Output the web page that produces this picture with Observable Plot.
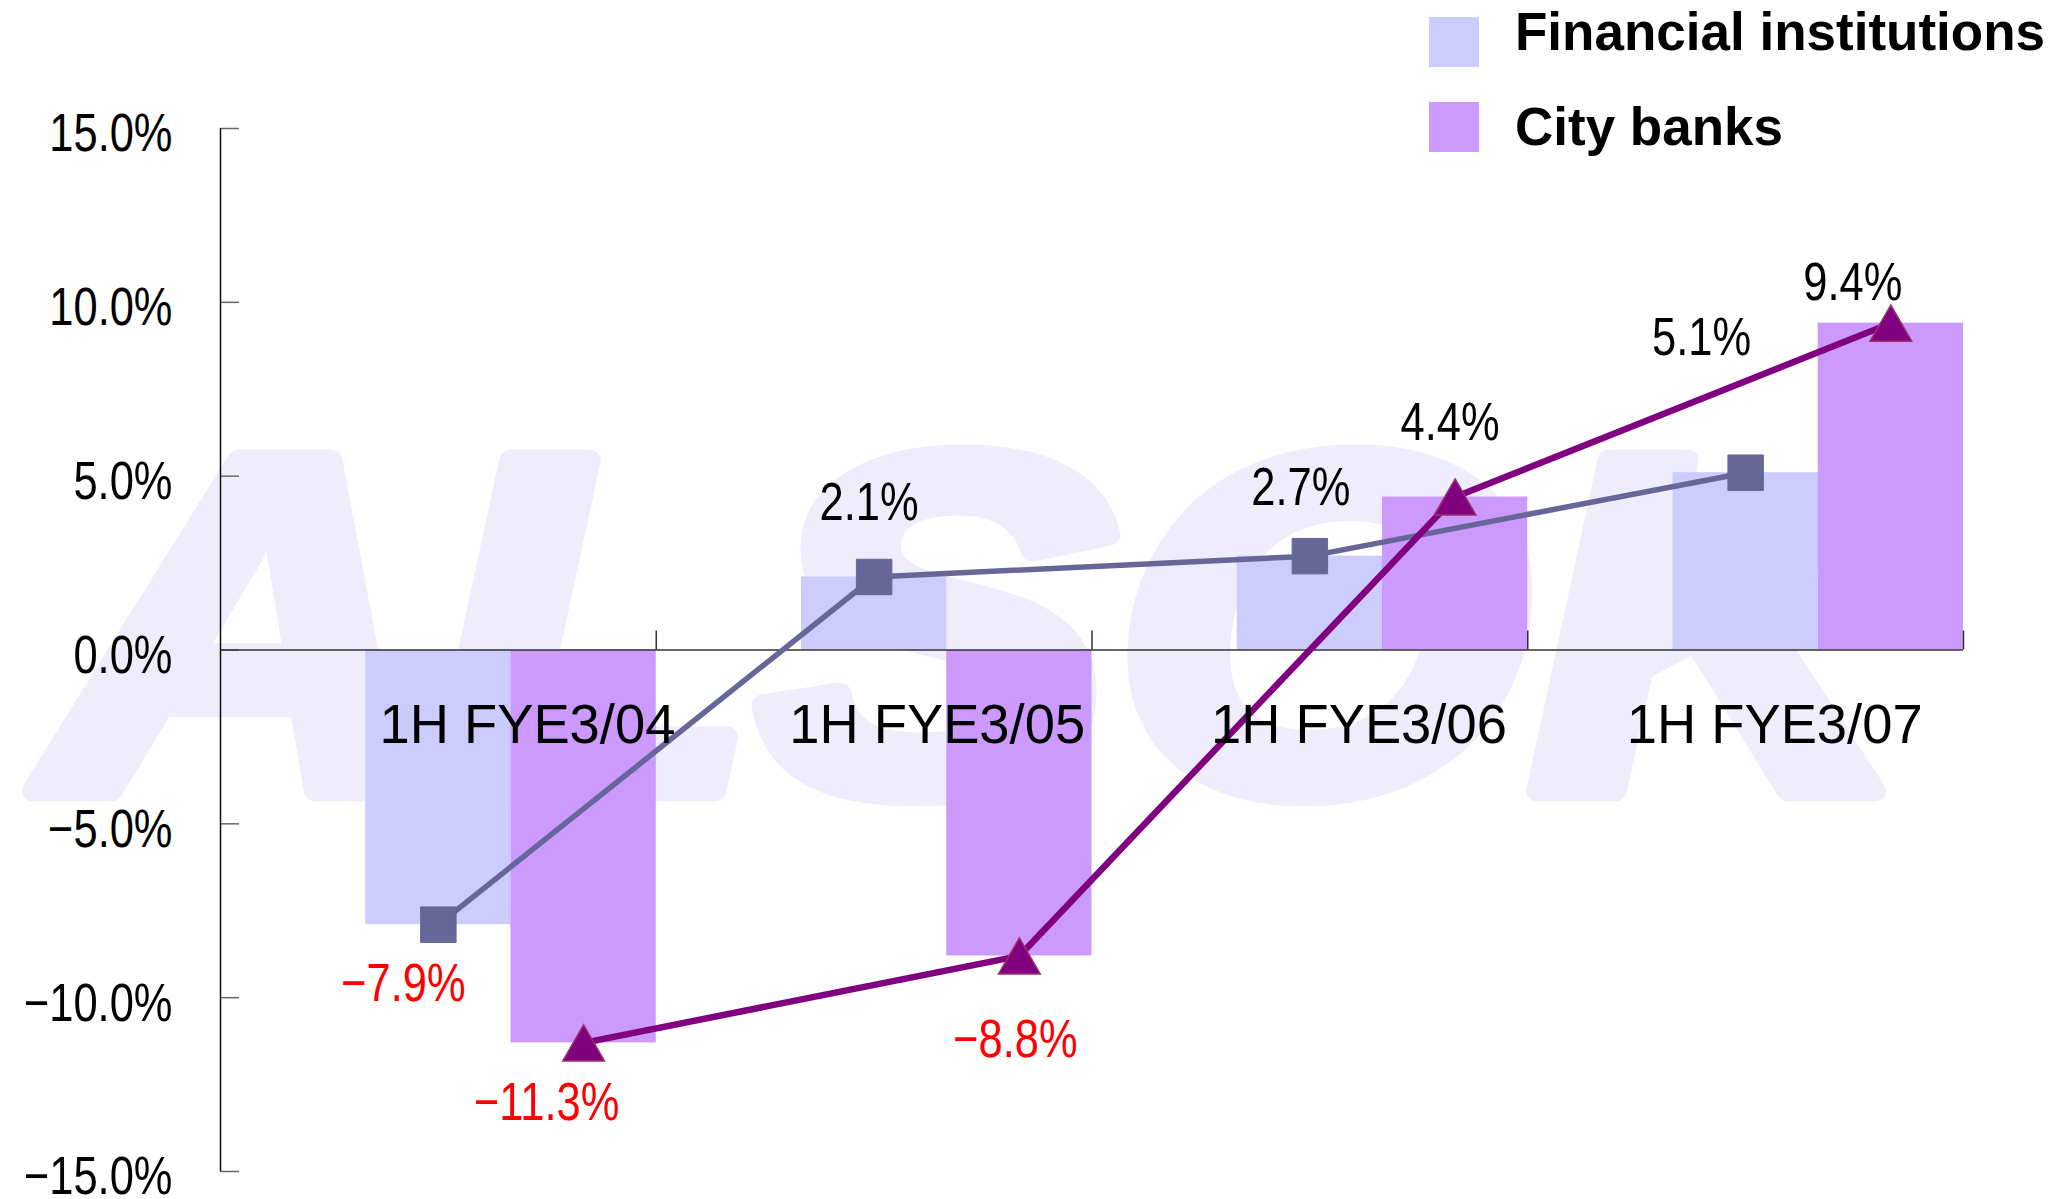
<!DOCTYPE html>
<html>
<head>
<meta charset="utf-8">
<script src="https://cdn.jsdelivr.net/npm/d3@7"></script>
<script src="https://cdn.jsdelivr.net/npm/@observablehq/plot@0.6"></script>
<style>
  html, body { margin: 0; padding: 0; background: #fff; }
  #wrap { position: relative; width: 2069px; height: 1199px; overflow: hidden; }
  #wrap svg { position: absolute; left: 0; top: 0; }
  .lg-sw { position: absolute; width: 50px; height: 50px; }
  .lg-tx { position: absolute; font-family: "Liberation Sans", Arial, sans-serif; font-weight: bold; font-size: 53px; line-height: 53px; color: #000; white-space: nowrap; }
</style>
</head>
<body>
<div id="wrap"></div>
<script>
// ---- data ----
const categories = ["1H FYE3/04", "1H FYE3/05", "1H FYE3/06", "1H FYE3/07"];
const seriesNames = ["Financial institutions", "City banks"];
const financial = [-7.9, 2.1, 2.7, 5.1];
const cityBanks = [-11.3, -8.8, 4.4, 9.4];
const yTicks = [15, 10, 5, 0, -5, -10, -15];

// ---- layout / style ----
const W = 2069, H = 1199;
const mL = 220, mR = 106, mT = 128, mB = 28;
const plotW = W - mL - mR, plotH = H - mT - mB;
const unitX = plotW / categories.length;   // px per category
const unitY = plotH / 30;                 // px per percentage point
const TICK = 19;
const FONT = "'Liberation Sans', Arial, sans-serif";
const colors = {fiBar: "#CCCCFF", cbBar: "#CC99FF", fiLine: "#666699", cbLine: "#800080"};
// label offsets (px) relative to markers
const fiLabelOff = [[-35, 57], [-5, -76], [-9, -70], [-44, -137]];
const cbLabelOff = [[-37, 58], [-4, 82], [-5, -76], [-38, -42]];
const catLabelDx = [89, 63, 49, 29];

const fmt = v => (v < 0 ? "\u2212" : "") + Math.abs(v).toFixed(1) + "%";

const fi = categories.map((c, i) => ({i, cat: c, v: financial[i]}));
const cb = categories.map((c, i) => ({i, cat: c, v: cityBanks[i]}));

const marks = [
  // watermark
  Plot.text(["ALSOK"], {frameAnchor: "middle", text: d => d, fontSize: 480, fontWeight: 900, fontStyle: "italic",
    fontFamily: FONT, fill: "#EFEDFC", stroke: "#EFEDFC", strokeWidth: 22, className: "wm", dx: -112, dy: -13}),
  // bars
  Plot.rect(fi, {x1: d => d.i + 1/3, x2: d => d.i + 2/3, y1: 0, y2: "v", fill: colors.fiBar}),
  Plot.rect(cb, {x1: d => d.i + 2/3, x2: d => d.i + 1, y1: 0, y2: "v", fill: colors.cbBar}),
  // axes
  Plot.ruleY(yTicks, {x1: 0, x2: TICK / unitX, stroke: "#666", strokeWidth: 1.5}),
  Plot.ruleX(categories.map((c, i) => i + 1), {y1: 0, y2: TICK / unitY, stroke: "#333", strokeWidth: 1.5}),
  Plot.ruleY([0], {stroke: "#333", strokeWidth: 1.5}),
  Plot.ruleX([0], {stroke: "#111", strokeWidth: 1.5}),
  Plot.text(yTicks, {x: 0, y: d => d, text: fmt, textAnchor: "end", dx: -48, dy: 6, fontSize: 53, fontFamily: FONT, fill: "#000", className: "nar"}),
  // lines + markers
  Plot.line(fi, {x: d => d.i + 0.5, y: "v", stroke: colors.fiLine, strokeWidth: 5.5}),
  Plot.dot(fi, {x: d => d.i + 0.5, y: "v", symbol: "square", r: 20, fill: colors.fiLine, stroke: colors.fiLine, strokeWidth: 1}),
  Plot.line(cb, {x: d => d.i + 5/6, y: "v", stroke: colors.cbLine, strokeWidth: 6.5}),
  Plot.dot(cb, {x: d => d.i + 5/6, y: "v", symbol: "triangle", r: 15.5, fill: colors.cbLine, stroke: "#993366", strokeWidth: 1.5, dy: 6}),
];

// category labels
fi.forEach((d, k) => {
  marks.push(Plot.text([d], {x: d => d.i + 0.5, y: 0, text: "cat", dx: catLabelDx[k], dy: 75, fontSize: 56, fontFamily: FONT, fill: "#000", className: "cat"}));
});
// data labels
fi.forEach((d, k) => {
  marks.push(Plot.text([d], {x: d => d.i + 0.5, y: "v", text: d => fmt(d.v), dx: fiLabelOff[k][0], dy: fiLabelOff[k][1] + 2,
    fontSize: 53, fontFamily: FONT, fill: d.v < 0 ? "#FF0000" : "#000", className: "nar"}));
});
cb.forEach((d, k) => {
  marks.push(Plot.text([d], {x: d => d.i + 5/6, y: "v", text: d => fmt(d.v), dx: cbLabelOff[k][0], dy: cbLabelOff[k][1] + 2,
    fontSize: 53, fontFamily: FONT, fill: d.v < 0 ? "#FF0000" : "#000", className: "nar"}));
});

const chart = Plot.plot({
  width: W, height: H,
  marginLeft: mL, marginRight: mR, marginTop: mT, marginBottom: mB,
  x: {domain: [0, categories.length], axis: null},
  y: {domain: [-15, 15], axis: null},
  style: {background: "transparent", overflow: "visible"},
  marks
});

const wrap = document.getElementById("wrap");
wrap.appendChild(chart);

// condense text horizontally (reference uses a narrow gothic face)
function condense(selector, factor) {
  d3.select(chart).selectAll(selector).each(function () {
    const L = this.getComputedTextLength();
    this.setAttribute("textLength", (L * factor).toFixed(1));
    this.setAttribute("lengthAdjust", "spacingAndGlyphs");
  });
}
condense("g.nar text", 0.82);
condense("g.cat text", 0.97);
d3.select(chart).selectAll("g.wm text").each(function () {
  this.setAttribute("textLength", 1870);
  this.setAttribute("lengthAdjust", "spacingAndGlyphs");
});

// legend (HTML, over the top-right of the chart)
const legendColors = [colors.fiBar, colors.cbBar];
seriesNames.forEach((name, k) => {
  const sw = document.createElement("div");
  sw.className = "lg-sw";
  sw.style.left = "1429px";
  sw.style.top = (17 + k * 85) + "px";
  sw.style.background = legendColors[k];
  wrap.appendChild(sw);
  const tx = document.createElement("div");
  tx.className = "lg-tx";
  tx.style.left = "1515px";
  tx.style.top = (5 + k * 95) + "px";
  tx.textContent = name;
  wrap.appendChild(tx);
});
</script>
</body>
</html>
